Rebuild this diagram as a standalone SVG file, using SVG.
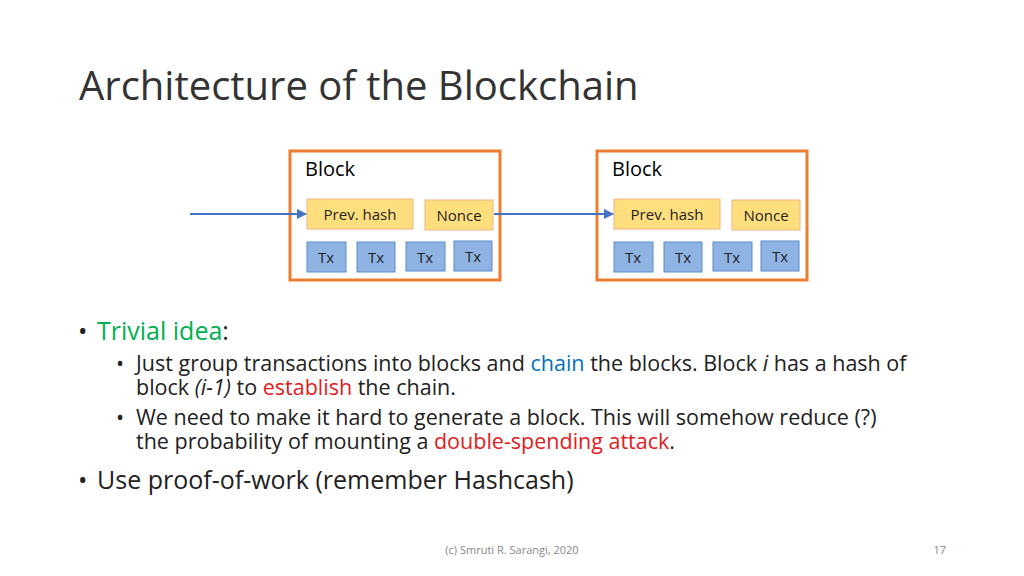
<svg xmlns="http://www.w3.org/2000/svg" width="1024" height="576" viewBox="0 0 1024 576">
<style>
text{font-family:"Open Sans","Liberation Sans",sans-serif;}
.blk{fill:#fff;stroke:#ed7d31;stroke-width:3}
.y{fill:#ffd966;stroke:#f4b183;stroke-width:1;fill-opacity:0.85}
.b{fill:#8fb4e3;stroke:#5b8bd0;stroke-width:1}
.s{font-size:15px;fill:#222}
.t{font-size:20px;fill:#000}
.c{stroke:#4472c4;stroke-width:2;fill:none}
</style>
<defs><marker id="ah" viewBox="0 0 10 10" refX="9" refY="5" markerWidth="5" markerHeight="5" orient="auto"><path d="M0,0L10,5L0,10z" fill="#4472c4"/></marker></defs>
<rect width="1024" height="576" fill="#fff"/>
<text x="79" y="100" font-size="40" fill="#333">Architecture of the Blockchain</text>
<g id="block1">
<rect class="blk" x="290" y="151" width="210" height="129"/>
<text class="t" x="305" y="176">Block</text>
<rect class="y" x="307" y="199" width="106" height="30"/><text class="s" x="360" y="220" text-anchor="middle">Prev. hash</text>
<rect class="y" x="425" y="200" width="68" height="30"/><text class="s" x="459" y="221" text-anchor="middle">Nonce</text>
<rect class="b" x="307" y="242" width="39" height="30"/><text class="s" x="326" y="263" text-anchor="middle">Tx</text>
<rect class="b" x="357" y="242" width="38" height="30"/><text class="s" x="376" y="263" text-anchor="middle">Tx</text>
<rect class="b" x="406" y="242" width="39" height="29"/><text class="s" x="425" y="263" text-anchor="middle">Tx</text>
<rect class="b" x="454" y="241" width="38" height="30"/><text class="s" x="473" y="262" text-anchor="middle">Tx</text>
</g>
<g id="block2">
<rect class="blk" x="597" y="151" width="210" height="129"/>
<text class="t" x="612" y="176">Block</text>
<rect class="y" x="614" y="199" width="106" height="30"/><text class="s" x="667" y="220" text-anchor="middle">Prev. hash</text>
<rect class="y" x="732" y="200" width="68" height="30"/><text class="s" x="766" y="221" text-anchor="middle">Nonce</text>
<rect class="b" x="614" y="242" width="39" height="30"/><text class="s" x="633" y="263" text-anchor="middle">Tx</text>
<rect class="b" x="664" y="242" width="38" height="30"/><text class="s" x="683" y="263" text-anchor="middle">Tx</text>
<rect class="b" x="713" y="242" width="39" height="29"/><text class="s" x="732" y="263" text-anchor="middle">Tx</text>
<rect class="b" x="761" y="241" width="38" height="30"/><text class="s" x="780" y="262" text-anchor="middle">Tx</text>
</g>
<g id="connectors">
<line class="c" x1="190" y1="214" x2="306" y2="214" marker-end="url(#ah)"/>
<line class="c" x1="494" y1="214" x2="613" y2="214" marker-end="url(#ah)"/>
</g>
<g font-size="25" fill="#222">
<text x="78" y="340">•</text>
<text x="97" y="340"><tspan fill="#00b050">Trivial idea</tspan>:</text>
<text x="116" y="371" font-size="21.5">•</text>
<text x="136" y="371" font-size="21.5">Just group transactions into blocks and <tspan fill="#0070c0">chain</tspan> the blocks. Block <tspan font-style="italic">i</tspan> has a hash of</text>
<text x="136" y="395" font-size="21.5">block <tspan font-style="italic">(i-1)</tspan> to <tspan fill="#e02020">establish</tspan> the chain.</text>
<text x="116" y="425" font-size="21.5">•</text>
<text x="136" y="425" font-size="21.5">We need to make it hard to generate a block. This will somehow reduce (?)</text>
<text x="136" y="449" font-size="21.5">the probability of mounting a <tspan fill="#e02020">double-spending attack</tspan>.</text>
<text x="78" y="489">•</text>
<text x="97" y="489">Use proof-of-work (remember Hashcash)</text>
</g>
<text x="512" y="554" font-size="11" fill="#888" text-anchor="middle">(c) Smruti R. Sarangi, 2020</text>
<text x="946" y="554" font-size="11" fill="#888" text-anchor="end">17</text>
</svg>
